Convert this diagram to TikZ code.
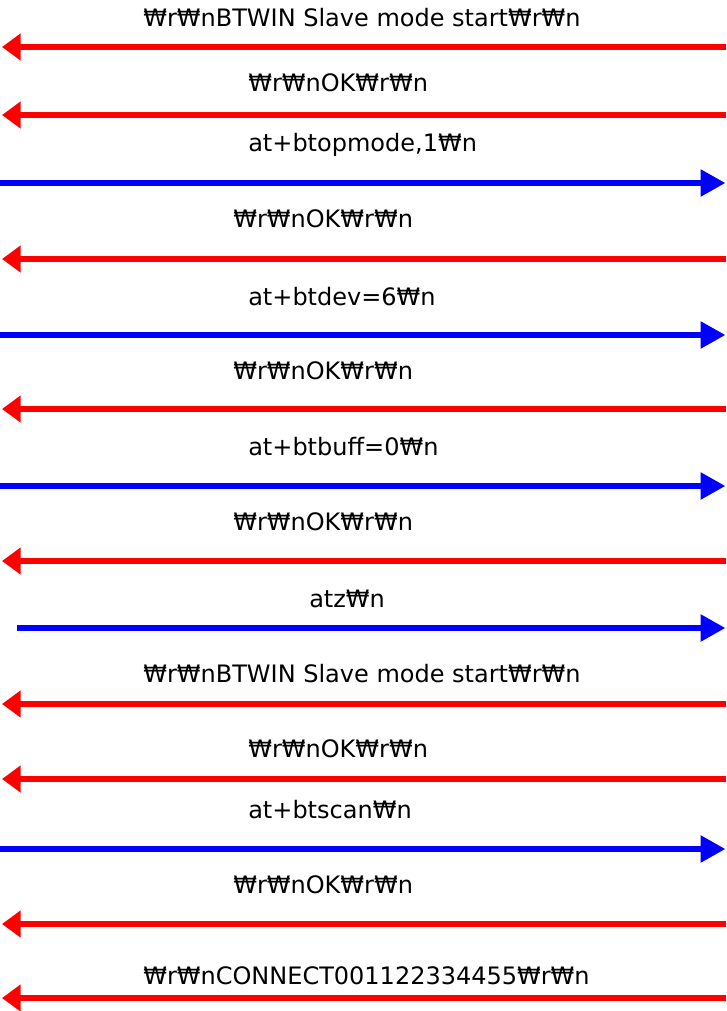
\documentclass[tikz,border=0pt]{standalone}
\usepackage{fontspec}
\setmainfont{DejaVu Sans}
\usetikzlibrary{arrows.meta}
\begin{document}
\begin{tikzpicture}[x=0.75pt,y=-0.75pt,
  lbl/.style={anchor=west,inner sep=0pt,font=\fontsize{18}{21}\selectfont},
  rmsg/.style={draw={rgb,255:red,255;green,0;blue,0},line width=4pt,-{Triangle[length=14pt,width=19.5pt]}},
  bmsg/.style={draw={rgb,255:red,0;green,0;blue,255},line width=4pt,-{Triangle[length=18.5pt,width=19.5pt]}}]
\useasboundingbox (0,0) rectangle (726,1011);
% end points
\foreach \n/\y in {1/47,2/115,3/183,4/259,5/335,6/409,7/486,8/561,9/628,10/704,11/779,12/849,13/924,14/998}{
  \coordinate (L\n) at (0,\y);
  \coordinate (R\n) at (726,\y);
}
\coordinate (L9) at (17,628);
\node[lbl] (t1) at (143,18) {₩r₩nBTWIN Slave mode start₩r₩n};
\node[lbl] (t2) at (248,83) {₩r₩nOK₩r₩n};
\node[lbl] (t3) at (248,145) {at+btopmode,1₩n};
\node[lbl] (t4) at (233,219) {₩r₩nOK₩r₩n};
\node[lbl] (t5) at (248,297) {at+btdev=6₩n};
\node[lbl] (t6) at (233,371) {₩r₩nOK₩r₩n};
\node[lbl] (t7) at (248,447) {at+btbuff=0₩n};
\node[lbl] (t8) at (233,522) {₩r₩nOK₩r₩n};
\node[lbl] (t9) at (309,599) {atz₩n};
\node[lbl] (t10) at (143,674) {₩r₩nBTWIN Slave mode start₩r₩n};
\node[lbl] (t11) at (248,749) {₩r₩nOK₩r₩n};
\node[lbl] (t12) at (248,810) {at+btscan₩n};
\node[lbl] (t13) at (233,885) {₩r₩nOK₩r₩n};
\node[lbl] (t14) at (143,976) {₩r₩nCONNECT001122334455₩r₩n};
\foreach \n in {1,2,4,6,8,10,11,13,14}{\draw[rmsg] (R\n) -- ([xshift=1.5pt]L\n);}
\foreach \n in {3,5,7,9,12}{\draw[bmsg] (L\n) -- ([xshift=-0.5pt]R\n);}
\end{tikzpicture}
\end{document}
